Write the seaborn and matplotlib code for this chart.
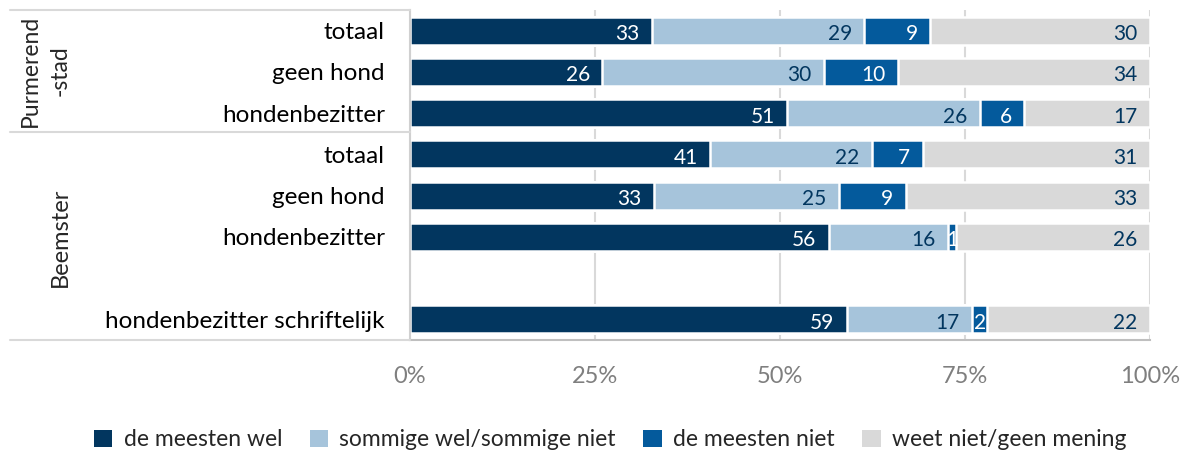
import numpy as np
import pandas as pd
import seaborn as sns
import matplotlib.pyplot as plt
from matplotlib.patches import Patch
from matplotlib.lines import Line2D

# data
keys = ['p_tot', 'p_geen', 'p_hond', 'b_tot', 'b_geen', 'b_hond', 'gap', 'b_schr']
row_labels = ['totaal', 'geen hond', 'hondenbezitter', 'totaal', 'geen hond',
              'hondenbezitter', '', 'hondenbezitter schriftelijk']
series = ['de meesten wel', 'sommige wel/sommige niet', 'de meesten niet', 'weet niet/geen mening']
meesten_wel = [33, 26, 51, 41, 33, 56, np.nan, 59]
sommige = [29, 30, 26, 22, 25, 16, np.nan, 17]
meesten_niet = [9, 10, 6, 7, 9, 1, np.nan, 2]
weet_niet = [30, 34, 17, 31, 33, 26, np.nan, 22]
tick_labels = ['0%', '25%', '50%', '75%', '100%']

colors = ['#02365F', '#A6C4DB', '#045A9C', '#D9D9D9']
text_colors = ['white', '#02365F', 'white', '#02365F']

sns.set_theme(style='white')
plt.rcParams['font.family'] = ['Lato', 'DejaVu Sans']

raw = np.array([meesten_wel, sommige, meesten_niet, weet_niet]).T
pct = raw / np.nansum(raw, axis=1, keepdims=True) * 100
cum = np.cumsum(pct, axis=1)

df = pd.DataFrame({'key': keys})
for i in range(4):
    df['c%d' % i] = cum[:, i]

fig = plt.figure(figsize=(11.92, 4.57), dpi=100)
ax = fig.add_axes([410 / 1192, 1 - 340 / 457, 740 / 1192, 330 / 457])

# stacked by overlaying cumulative bars
for i in [3, 2, 1, 0]:
    sns.barplot(data=df, y='key', x='c%d' % i, order=keys, orient='h', color=colors[i],
                width=0.68, edgecolor='white', linewidth=1.8, saturation=1, ax=ax)

# value labels
for r in range(len(keys)):
    if np.isnan(raw[r, 0]):
        continue
    for i in range(4):
        end = cum[r, i]
        start = end - pct[r, i]
        txt = '%d' % raw[r, i]
        if raw[r, i] < 4:
            ax.annotate(txt, xy=((start + end) / 2, r), xytext=(0, -2.5), textcoords='offset points',
                        ha='center', va='center', color=text_colors[i], fontsize=15)
        else:
            ax.annotate(txt, xy=(end, r), xytext=(-9, -2.5), textcoords='offset points',
                        ha='right', va='center', color=text_colors[i], fontsize=15)

ax.set_xlim(0, 100)
ax.set_ylim(7.5, -0.5)
ax.set_xticks([0, 25, 50, 75, 100])
ax.set_xticklabels(tick_labels, color='#7F7F7F', fontsize=17)
ax.set_yticks(range(len(keys)))
ax.set_yticklabels(row_labels, fontsize=17.5, color='black')
ax.tick_params(axis='y', length=0, pad=18)
ax.tick_params(axis='x', length=0, pad=19)
ax.set_xlabel('')
ax.set_ylabel('')
ax.grid(axis='x', color='#D9D9D9', linewidth=1.5)
ax.set_axisbelow(True)
for s in ['top', 'right']:
    ax.spines[s].set_visible(False)
ax.spines['left'].set_color('#D0D0D0')
ax.spines['left'].set_linewidth(1.5)
ax.spines['bottom'].set_color('#BFBFBF')
ax.spines['bottom'].set_linewidth(1.5)

# group frame lines on the left
for yp in [10, 132, 340]:
    fig.add_artist(Line2D([10 / 1192, 410 / 1192], [1 - yp / 457, 1 - yp / 457],
                          transform=fig.transFigure, color='#D9D9D9', linewidth=1.5))

fig.text(45 / 1192, 1 - 71 / 457, 'Purmerend\n-stad', rotation=90, ha='center', va='center',
         multialignment='center', fontsize=16.5, linespacing=1.5)
fig.text(60 / 1192, 1 - 237 / 457, 'Beemster', rotation=90, ha='center', va='center', fontsize=17)

handles = [Patch(facecolor=c, edgecolor='none') for c in colors]
fig.legend(handles, series, loc='center', bbox_to_anchor=(0.512, 1 - 440 / 457), ncol=4,
           frameon=False, fontsize=16.5, handlelength=0.8, handleheight=0.8,
           handletextpad=0.5, columnspacing=1.2)

fig.savefig('out.png', dpi=100)
